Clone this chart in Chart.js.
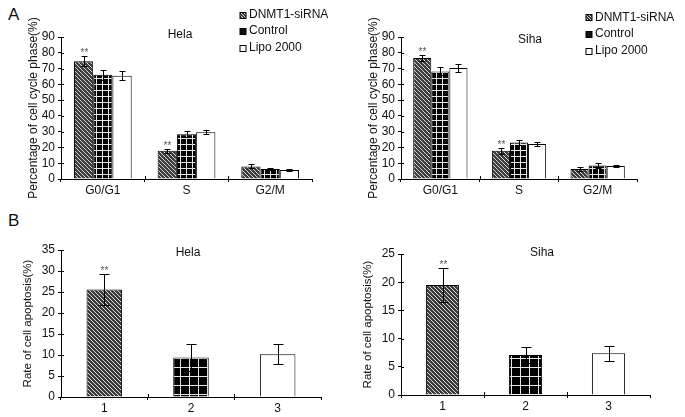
<!DOCTYPE html>
<html>
<head>
<meta charset="utf-8">
<script src="https://cdn.jsdelivr.net/npm/chart.js@4.4.0/dist/chart.umd.min.js"></script>
<style>
    html, body { margin: 0; padding: 0; background: #fff; }
    #wrap { position: relative; width: 685px; height: 417px; overflow: hidden;
            font-family: "Liberation Sans", Arial, sans-serif; }
    canvas { position: absolute; }
    .tag { position: absolute; font-size: 17px; color: #111; line-height: 1; }
</style>
</head>
<body>
<div id="wrap">
    <div class="tag" style="left:8px;top:6px">A</div>
    <div class="tag" style="left:8px;top:212px">B</div>
    <canvas id="helaCycle" width="340" height="205" style="left:0;top:0"></canvas>
    <canvas id="sihaCycle" width="345" height="205" style="left:340px;top:0"></canvas>
    <canvas id="helaApo" width="340" height="212" style="left:0;top:205px"></canvas>
    <canvas id="sihaApo" width="345" height="212" style="left:340px;top:205px"></canvas>
</div>
<script>
// =========================
// DATA
// =========================

const phases = ["G0/G1", "S", "G2/M"];
const groupNames = ["DNMT1-siRNA", "Control", "Lipo 2000"];
const cycleTicks = [0, 10, 20, 30, 40, 50, 60, 70, 80, 90];

const helaSirna = [74.7, 17.9, 8.0];
const helaSirnaErr = [3.0, 1.2, 1.2];
const helaControl = [66.0, 28.4, 6.3];
const helaControlErr = [3.0, 2.0, 0.5];
const helaLipo = [65.4, 29.6, 5.7];
const helaLipoErr = [2.8, 1.2, 0.5];

const sihaSirna = [76.7, 17.9, 6.3];
const sihaSirnaErr = [2.0, 2.0, 1.2];
const sihaControl = [68.2, 23.2, 8.5];
const sihaControlErr = [2.5, 1.7, 1.5];
const sihaLipo = [70.3, 22.2, 8.2];
const sihaLipoErr = [2.7, 1.5, 0.5];

const sigCycle = ["**", "**", ""];

const apoGroups = ["1", "2", "3"];
const helaApoTicks = [0, 5, 10, 15, 20, 25, 30, 35];
const sihaApoTicks = [0, 5, 10, 15, 20, 25];
const helaApoptosis = [25.6, 9.4, 10.2];
const helaApoptosisErr = [3.8, 3.2, 2.4];
const sihaApoptosis = [19.5, 7.1, 7.4];
const sihaApoptosisErr = [3.0, 1.4, 1.3];

const sigApoptosis = ["**", "", ""];

const FONT = "'Liberation Sans', Arial, sans-serif";

// =========================
// FILL PATTERNS
// =========================

function hatchPattern(step) {
    const c = document.createElement("canvas");
    c.width = step; c.height = step;
    const g = c.getContext("2d");
    g.fillStyle = "#3c3c3c";
    g.fillRect(0, 0, step, step);
    g.fillStyle = "#d8d8d8";
    for (let i = 0; i < step; i++) g.fillRect(i, i, 1, 1);
    return g.createPattern(c, "repeat");
}

function gridPattern(step) {
    const c = document.createElement("canvas");
    c.width = step; c.height = step;
    const g = c.getContext("2d");
    g.fillStyle = "#000";
    g.fillRect(0, 0, step, step);
    g.fillStyle = "#e6e6e6";
    g.fillRect(0, 0, step, 1);
    g.fillRect(0, 0, 1, step);
    return g.createPattern(c, "repeat");
}

// =========================
// PLUGINS
// =========================

const errorBars = {
    id: "errorBars",
    afterDatasetsDraw(chart, args, opts) {
        const ctx = chart.ctx;
        const y = chart.scales.y;
        ctx.save();
        ctx.strokeStyle = "#000";
        ctx.lineWidth = 1;
        chart.data.datasets.forEach((ds, di) => {
            const meta = chart.getDatasetMeta(di);
            meta.data.forEach((bar, i) => {
                const v = ds.data[i], e = ds.errors[i];
                const top = Math.round(y.getPixelForValue(v + e)) + 0.5;
                const bot = Math.round(y.getPixelForValue(v - e)) + 0.5;
                const x = Math.round(bar.x) + 0.5;
                ctx.beginPath();
                ctx.moveTo(x, top); ctx.lineTo(x, bot);
                ctx.moveTo(x - opts.cap, top); ctx.lineTo(x + opts.cap, top);
                ctx.moveTo(x - opts.cap, bot); ctx.lineTo(x + opts.cap, bot);
                ctx.stroke();
                if (ds.marks && ds.marks[i]) {
                    ctx.fillStyle = "#555";
                    ctx.font = "10px " + FONT;
                    ctx.textAlign = "center";
                    ctx.textBaseline = "alphabetic";
                    ctx.fillText(ds.marks[i], x, top - 1);
                }
            });
        });
        ctx.restore();
    }
};

// small tick marks on the inner side of both axes, like the original
const innerTicks = {
    id: "innerTicks",
    afterDraw(chart) {
        const ctx = chart.ctx;
        const { x, y } = chart.scales;
        const a = chart.chartArea;
        ctx.save();
        ctx.strokeStyle = "#000";
        ctx.lineWidth = 1;
        ctx.beginPath();
        y.ticks.forEach((t, i) => {
            const py = Math.round(y.getPixelForTick(i)) + 0.5;
            ctx.moveTo(a.left, py); ctx.lineTo(a.left + 3, py);
        });
        for (let i = 1; i < x.ticks.length; i++) {
            const px = Math.round((x.getPixelForTick(i - 1) + x.getPixelForTick(i)) / 2) + 0.5;
            ctx.moveTo(px, a.bottom); ctx.lineTo(px, a.bottom - 3);
        }
        ctx.stroke();
        ctx.restore();
    }
};

const panelText = {
    id: "panelText",
    afterDraw(chart, args, opts) {
        const ctx = chart.ctx;
        ctx.save();
        ctx.fillStyle = "#111";
        ctx.font = "12px " + FONT;
        ctx.textAlign = "center";
        ctx.textBaseline = "middle";
        ctx.fillText(opts.text, opts.x, opts.y);

        if (opts.legend) {
            const lg = opts.legend;
            chart.data.datasets.forEach((ds, i) => {
                const cy = lg.y + i * lg.gap;
                const bx = lg.x, by = Math.round(cy - 3) + 0.5;
                ctx.fillStyle = ds.legendFill;
                ctx.fillRect(bx, by, 6, 6);
                ctx.strokeStyle = "#000";
                ctx.lineWidth = 1;
                ctx.strokeRect(bx, by, 6, 6);
                ctx.fillStyle = "#111";
                ctx.textAlign = "left";
                ctx.fillText(ds.label, bx + 9, cy);
            });
        }
        ctx.restore();
    }
};

// =========================
// CHART BUILDER
// =========================

function makeChart(id, cfg) {
    return new Chart(document.getElementById(id), {
        type: "bar",
        data: { labels: cfg.labels, datasets: cfg.datasets },
        options: {
            responsive: false,
            animation: false,
            devicePixelRatio: 1,
            layout: { padding: cfg.padding },
            datasets: {
                bar: {
                    barPercentage: 1,
                    categoryPercentage: cfg.catPct,
                    borderColor: "#000",
                    borderWidth: 1
                }
            },
            plugins: {
                legend: { display: false },
                tooltip: { enabled: false },
                errorBars: { cap: cfg.cap },
                panelText: { text: cfg.title, x: cfg.titleX, y: cfg.titleY, legend: cfg.legend }
            },
            scales: {
                x: {
                    ticks: { color: "#111", font: { size: 12, family: FONT }, padding: 1 },
                    grid: { drawOnChartArea: false, drawTicks: true, tickLength: 3, color: "#000", offset: true },
                    border: { display: true, color: "#000" },
                    afterFit(s) { s.height = cfg.xHeight; }
                },
                y: {
                    min: 0,
                    max: cfg.yTicks[cfg.yTicks.length - 1],
                    afterBuildTicks(s) { s.ticks = cfg.yTicks.map(v => ({ value: v })); },
                    ticks: {
                        autoSkip: false,
                        color: "#111",
                        font: { size: cfg.tickSize, family: FONT },
                        padding: 3
                    },
                    grid: { drawOnChartArea: false, drawTicks: true, tickLength: 3, color: "#000" },
                    border: { display: true, color: "#000" },
                    title: {
                        display: true,
                        text: cfg.yTitle,
                        color: "#111",
                        font: { size: cfg.yTitleSize, family: FONT },
                        padding: { top: cfg.yTitlePad, bottom: 0 }
                    },
                    afterFit(s) { s.width = 61; }
                }
            }
        },
        plugins: [errorBars, innerTicks, panelText]
    });
}

function cycleDatasets(sirna, sirnaErr, control, controlErr, lipo, lipoErr) {
    return [
        { label: groupNames[0], data: sirna, errors: sirnaErr, marks: sigCycle,
          backgroundColor: hatchPattern(4), legendFill: hatchPattern(3) },
        { label: groupNames[1], data: control, errors: controlErr,
          backgroundColor: gridPattern(6), legendFill: "#111" },
        { label: groupNames[2], data: lipo, errors: lipoErr,
          backgroundColor: "#fff", legendFill: "#fff" }
    ];
}

function apoDataset(values, errs) {
    return [{
        label: "Apoptosis",
        data: values,
        errors: errs,
        marks: sigApoptosis,
        backgroundColor: [hatchPattern(4), gridPattern(9), "#fff"]
    }];
}

makeChart("helaCycle", {
    labels: phases,
    datasets: cycleDatasets(helaSirna, helaSirnaErr, helaControl, helaControlErr, helaLipo, helaLipoErr),
    padding: { left: 0, top: 37, right: 28, bottom: 0 },
    catPct: 0.69, cap: 3, xHeight: 26,
    yTicks: cycleTicks, tickSize: 12,
    yTitle: "Percentage of cell cycle phase(%)", yTitleSize: 12, yTitlePad: 26,
    title: "Hela", titleX: 180, titleY: 35,
    legend: { x: 240, y: 14.5, gap: 16.5 }
});

makeChart("sihaCycle", {
    labels: phases,
    datasets: cycleDatasets(sihaSirna, sihaSirnaErr, sihaControl, sihaControlErr, sihaLipo, sihaLipoErr),
    padding: { left: 0, top: 37, right: 48, bottom: 0 },
    catPct: 0.69, cap: 3, xHeight: 26,
    yTicks: cycleTicks, tickSize: 12,
    yTitle: "Percentage of cell cycle phase(%)", yTitleSize: 12, yTitlePad: 26,
    title: "Siha", titleX: 190, titleY: 40,
    legend: { x: 246, y: 17.3, gap: 16.8 }
});

makeChart("helaApo", {
    labels: apoGroups,
    datasets: apoDataset(helaApoptosis, helaApoptosisErr),
    padding: { left: 0, top: 45, right: 19, bottom: 0 },
    catPct: 0.41, cap: 5, xHeight: 20,
    yTicks: helaApoTicks, tickSize: 12,
    yTitle: "Rate of cell apoptosis(%)", yTitleSize: 11.5, yTitlePad: 21,
    title: "Hela", titleX: 188, titleY: 48
});

makeChart("sihaApo", {
    labels: apoGroups,
    datasets: apoDataset(sihaApoptosis, sihaApoptosisErr),
    padding: { left: 0, top: 49, right: 35, bottom: 0 },
    catPct: 0.40, cap: 5, xHeight: 22,
    yTicks: sihaApoTicks, tickSize: 12,
    yTitle: "Rate of cell apoptosis(%)", yTitleSize: 11.5, yTitlePad: 21,
    title: "Siha", titleX: 202, titleY: 48
});
</script>
</body>
</html>
